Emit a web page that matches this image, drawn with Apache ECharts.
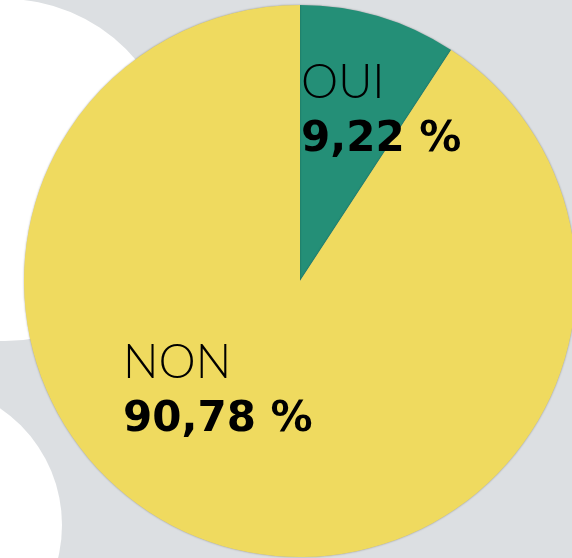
<!DOCTYPE html>
<html>
<head>
<meta charset="utf-8">
<script src="https://cdn.jsdelivr.net/npm/echarts@6/dist/echarts.min.js"></script>
<style>
html,body{margin:0;padding:0;background:#dcdfe2;}
#c{width:572px;height:558px;}
</style>
</head>
<body>
<div id="c"></div>
<script>
const categories = ['OUI', 'NON'];
const values = [9.22, 90.78];
const colors = ['#248f77', '#efda5f'];

const labelPos = [[301, 55], [123, 335]];

const chart = echarts.init(document.getElementById('c'), null, {renderer: 'canvas'});
chart.setOption({
  backgroundColor: '#dcdfe2',
  animation: false,
  graphic: [
    {type: 'circle', shape: {cx: 5, cy: 170, r: 171}, style: {fill: '#ffffff'}, z: -10},
    {type: 'circle', shape: {cx: -79, cy: 525, r: 141}, style: {fill: '#ffffff'}, z: -10}
  ],
  series: [{
    type: 'pie',
    center: [300, 281],
    radius: 276,
    startAngle: 90,
    clockwise: true,
    silent: true,
    data: categories.map((n, i) => ({name: n, value: values[i], itemStyle: {color: colors[i]}})),
    itemStyle: {borderWidth: 0, shadowBlur: 2, shadowColor: 'rgba(0,0,0,0.35)'},
    label: {
      show: true,
      position: 'inside',
      formatter: p => '{a|' + p.name + '}\n{b|' + p.value.toFixed(2).replace('.', ',') + ' %}',
      rich: {
        a: {fontFamily: 'Lato', fontWeight: 300, fontSize: 47, lineHeight: 56, color: '#000'},
        b: {fontFamily: 'DejaVu Sans', fontWeight: 'bold', fontSize: 42, lineHeight: 58, color: '#000'}
      }
    },
    labelLine: {show: false},
    labelLayout: p => ({x: labelPos[p.dataIndex][0], y: labelPos[p.dataIndex][1], align: 'left', verticalAlign: 'top'})
  }]
});
</script>
</body>
</html>
